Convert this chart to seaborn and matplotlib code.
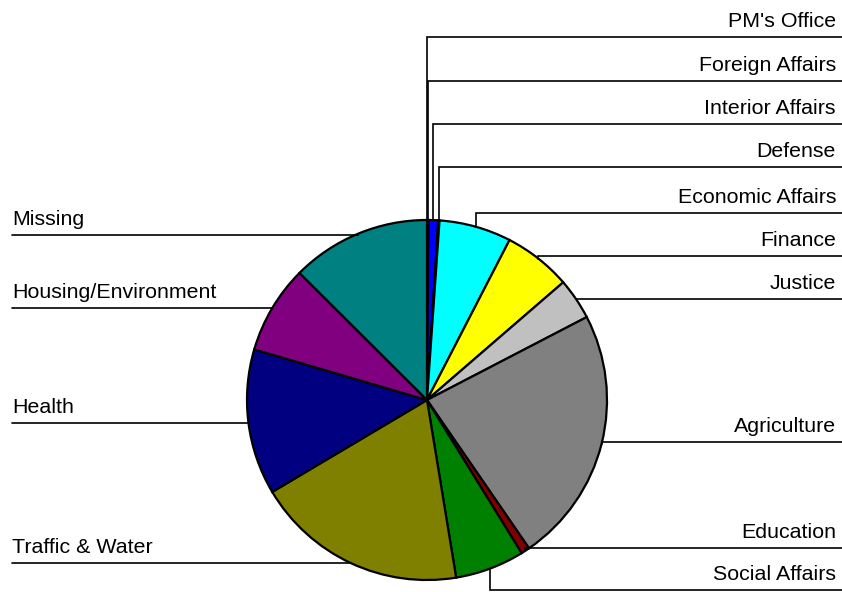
import numpy as np
import matplotlib
matplotlib.use("Agg")
import matplotlib.pyplot as plt
import seaborn as sns

# ---- data ----
categories = ["PM's Office", "Foreign Affairs", "Interior Affairs", "Defense",
              "Economic Affairs", "Finance", "Justice", "Agriculture",
              "Education", "Social Affairs", "Traffic & Water", "Health",
              "Housing/Environment", "Missing"]
shares = [0.04, 0.10, 0.86, 0.11, 6.47, 6.08, 3.72, 23.03,
          0.78, 6.22, 19.06, 13.06, 7.94, 12.53]
colors = ["#FF00FF", "#00FF00", "#0000FF", "#FFFFFF", "#00FFFF", "#FFFF00",
          "#C0C0C0", "#808080", "#800000", "#008000", "#808000", "#000080",
          "#800080", "#008080"]

# layout: vertical level (px from top) of each label's leader line
label_rows = [37, 81, 124, 167, 213, 256, 299, 442, 548, 590, 563, 423, 308, 235]

sns.set_theme(style="white")
plt.rcParams['font.family'] = ['Liberation Sans', 'DejaVu Sans']

W, H = 842, 592
fig = plt.figure(figsize=(W / 100, H / 100), dpi=100)
ax = fig.add_axes([0, 0, 1, 1])
cx, cy, R = 427, H - 400, 180

wedges, _ = ax.pie(shares, colors=colors, startangle=90, counterclock=False,
                   center=(cx, cy), radius=R,
                   wedgeprops=dict(edgecolor="black", linewidth=1.6))
ax.set_xlim(0, W)
ax.set_ylim(0, H)
ax.set_aspect("equal")
ax.axis("off")

fs = 15.4
for w, name, row in zip(wedges, categories, label_rows):
    mid = np.deg2rad((w.theta1 + w.theta2) / 2)
    px = cx + R * np.cos(mid)
    py = cy + R * np.sin(mid)
    ly = H - row
    if np.cos(mid) > -0.01:
        ax.plot([px, px, W + 5], [py, ly, ly], color="black", lw=1.2,
                solid_joinstyle="miter", clip_on=False, zorder=3)
        ax.text(836, ly + 10, name, ha="right", va="baseline", fontsize=fs,
                color="black")
    else:
        ax.plot([12, px, px], [ly, ly, py], color="black", lw=1.2,
                solid_joinstyle="miter", clip_on=False, zorder=3)
        ax.text(12, ly + 10, name, ha="left", va="baseline", fontsize=fs,
                color="black")

fig.savefig("out.png", dpi=100, facecolor="white")
